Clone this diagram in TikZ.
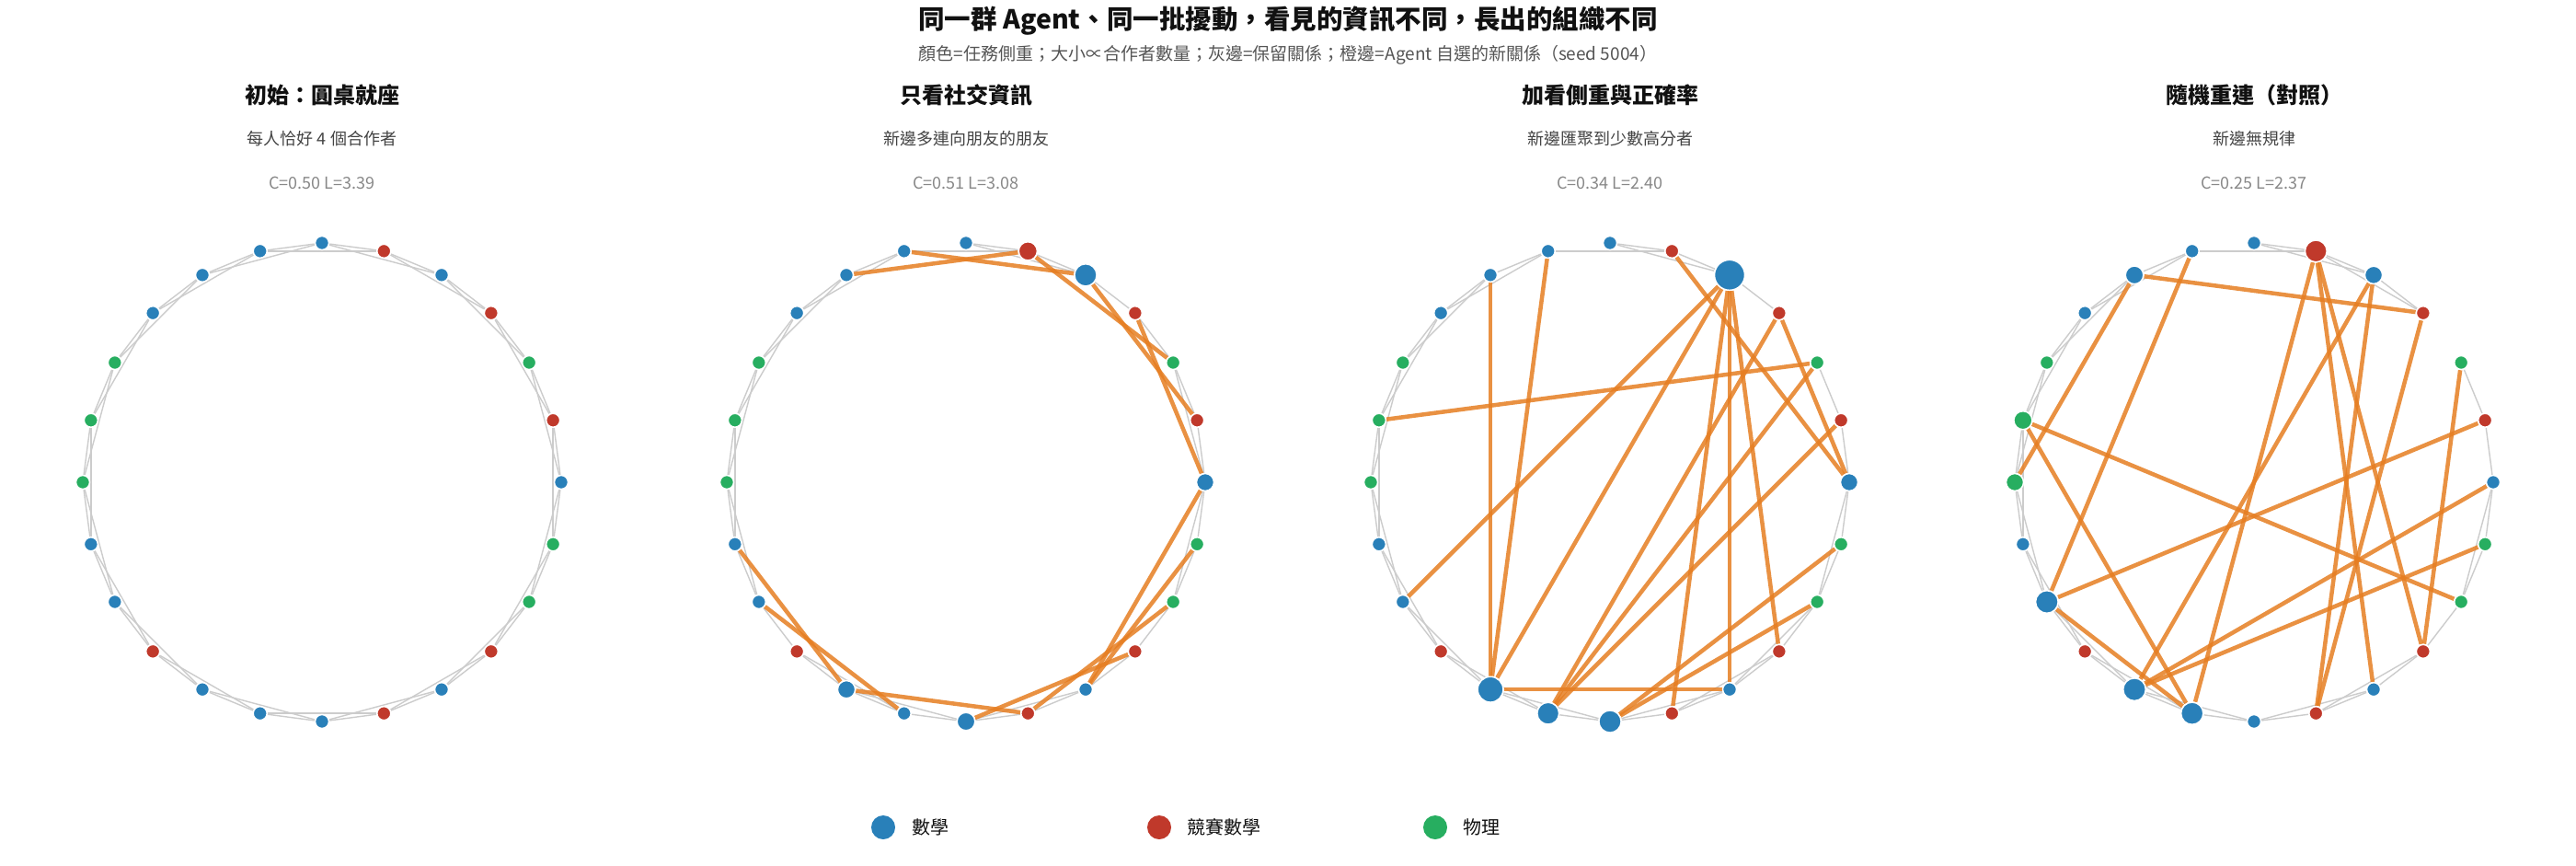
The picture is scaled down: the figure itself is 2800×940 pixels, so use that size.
\documentclass[tikz,border=0pt]{standalone}
\usepackage{fontspec}
\setmainfont{Noto Sans CJK TC}
\definecolor{cblue}{HTML}{2980B9}
\definecolor{cred}{HTML}{C0392B}
\definecolor{cgreen}{HTML}{27AE60}
\definecolor{corange}{HTML}{E67E22}
\definecolor{cgray}{HTML}{CCCCCC}
\definecolor{ctitle}{HTML}{111111}
\definecolor{csub}{HTML}{555555}
\definecolor{cdesc}{HTML}{444444}
\definecolor{cstat}{HTML}{888888}
\pgfdeclarelayer{bg}
\pgfdeclarelayer{edges}
\pgfsetlayers{bg,edges,main}
\newcommand\colorlist{0/cblue,1/cred,2/cblue,3/cred,4/cgreen,5/cred,6/cblue,7/cgreen,8/cgreen,9/cred,10/cblue,11/cred,12/cblue,13/cblue,14/cblue,15/cred,16/cblue,17/cblue,18/cgreen,19/cgreen,20/cgreen,21/cblue,22/cblue,23/cblue}
\newcommand\drawagents[3]{%
  \foreach \i/\c in \colorlist {%
    \pgfmathsetmacro\rr{{#3}[\i]}%
    \pgfmathsetmacro\dd{2*\rr+1}%
    \node[agent, fill=\c, minimum size=\dd pt] (#1\i) at ({#2+260*sin(15*\i)},{524-260*cos(15*\i)}) {};
  }%
}
\begin{document}
\begin{tikzpicture}[x=1pt,y=-1pt,
  agent/.style={circle, inner sep=0pt, draw=white, line width=1.5pt},
  gedge/.style={draw=cgray, line width=1.4pt},
  oedge/.style={draw=corange, line width=4.5pt, opacity=0.85},
  ptitle/.style={font=\bfseries\fontsize{24}{28}\selectfont, text=ctitle},
  pdesc/.style={font=\fontsize{18}{22}\selectfont, text=cdesc},
  pstat/.style={font=\fontsize{18}{22}\selectfont, text=cstat},
  legtext/.style={font=\fontsize{20}{24}\selectfont, text=ctitle, anchor=west},
  legdot/.style={circle, inner sep=0pt, minimum size=26pt}
]
\useasboundingbox (0,0) rectangle (2800,940);
\begin{pgfonlayer}{bg}
\fill[white] (0,0) rectangle (2800,940);
\end{pgfonlayer}

% titles
\node[font=\bfseries\fontsize{28.5}{34}\selectfont, text=ctitle] (title) at (1400,23) {同一群 Agent、同一批擾動，看見的資訊不同，長出的組織不同};
\node[font=\fontsize{19}{23}\selectfont, text=csub] (subtitle) at (1400,60) {顏色=任務側重；大小∝合作者數量；灰邊=保留關係；橙邊=Agent 自選的新關係（seed 5004）};

\node[ptitle] (tA) at (350,103) {初始：圓桌就座};
\node[pdesc] (dA) at (350,151) {每人恰好 4 個合作者};
\node[pstat] (sA) at (350,199) {C=0.50 L=3.39};

\node[ptitle] (tB) at (1050,103) {只看社交資訊};
\node[pdesc] (dB) at (1050,151) {新邊多連向朋友的朋友};
\node[pstat] (sB) at (1050,199) {C=0.51 L=3.08};

\node[ptitle] (tC) at (1750,103) {加看側重與正確率};
\node[pdesc] (dC) at (1750,151) {新邊匯聚到少數高分者};
\node[pstat] (sC) at (1750,199) {C=0.34 L=2.40};

\node[ptitle] (tD) at (2450,103) {隨機重連（對照）};
\node[pdesc] (dD) at (2450,151) {新邊無規律};
\node[pstat] (sD) at (2450,199) {C=0.25 L=2.37};

% agents
\drawagents{A}{350}{7,7,7,7,7,7,7,7,7,7,7,7,7,7,7,7,7,7,7,7,7,7,7,7}
\drawagents{B}{1050}{7,9.6,11.6,7,7,7,9,7,7,7,7,7,9.3,7,9.1,7,7,7,7,7,7,7,7,7}
\drawagents{C}{1750}{7,7,16,7,7,7,9,7,7,7,7,7,11.6,11.4,13.4,7,7,7,7,7,7,7,7,7}
\drawagents{D}{2450}{7,11.4,9.1,7,7,7,7,7,7,7,7,7,7,11.6,11.8,7,11.8,7,9,9.5,7,7,9.3,7}

\begin{pgfonlayer}{edges}
% panel A: full ring lattice
\foreach \i in {0,...,23} {
  \pgfmathtruncatemacro\ja{mod(\i+1,24)}
  \pgfmathtruncatemacro\jb{mod(\i+2,24)}
  \draw[gedge] (A\i) -- (A\ja);
  \draw[gedge] (A\i) -- (A\jb);
}
% panel B
\foreach \a/\b in {0/1,1/2,2/3,3/4,4/5,5/6,6/7,7/8,8/9,9/10,10/11,11/12,12/13,13/14,14/15,15/16,16/17,17/18,18/19,19/20,20/21,21/22,22/23,
  0/2,4/6,6/8,10/12,12/14,13/15,16/18,17/19,18/20,19/21,20/22,21/23,23/1}
  \draw[gedge] (B\a) -- (B\b);
\foreach \a/\b in {23/2,22/1,1/4,2/5,3/6,17/14,16/13,14/11,12/9,11/8,10/6,10/7}
  \draw[oedge] (B\a) -- (B\b);
% panel C
\foreach \a/\b in {0/1,1/2,2/3,4/5,5/6,6/7,7/8,8/9,9/10,10/11,11/12,12/13,13/14,14/15,15/16,16/17,17/18,18/19,19/20,20/21,21/22,22/23,
  0/2,6/8,8/10,9/11,10/12,12/14,13/15,14/16,15/17,16/18,17/19,18/20,19/21,20/22,21/23,23/1}
  \draw[gedge] (C\a) -- (C\b);
\foreach \a/\b in {22/14,23/14,4/19,2/16,2/14,2/11,2/10,2/9,1/6,3/13,3/6,4/13,5/13,14/10,12/7,12/8}
  \draw[oedge] (C\a) -- (C\b);
% panel D
\foreach \a/\b in {0/1,1/2,2/3,4/5,5/6,6/7,7/8,8/9,9/10,10/11,11/12,12/13,13/14,14/15,15/16,16/17,17/18,18/19,19/20,20/21,21/22,22/23,
  0/2,1/3,6/8,9/11,10/12,12/14,13/15,14/16,15/17,16/18,17/19,18/20,19/21,20/22,21/23,23/1}
  \draw[gedge] (D\a) -- (D\b);
\foreach \a/\b in {22/3,22/18,23/16,19/8,19/13,1/13,2/14,1/10,1/9,2/11,3/11,4/9,5/16,6/14,14/7,16/13}
  \draw[oedge] (D\a) -- (D\b);
\end{pgfonlayer}

% legend
\node[legdot, fill=cblue] (l1) at (960,899) {};
\node[legtext] (lt1) at (988,899) {數學};
\node[legdot, fill=cred] (l2) at (1260,899) {};
\node[legtext] (lt2) at (1287,899) {競賽數學};
\node[legdot, fill=cgreen] (l3) at (1560,899) {};
\node[legtext] (lt3) at (1587,899) {物理};
\end{tikzpicture}
\end{document}
